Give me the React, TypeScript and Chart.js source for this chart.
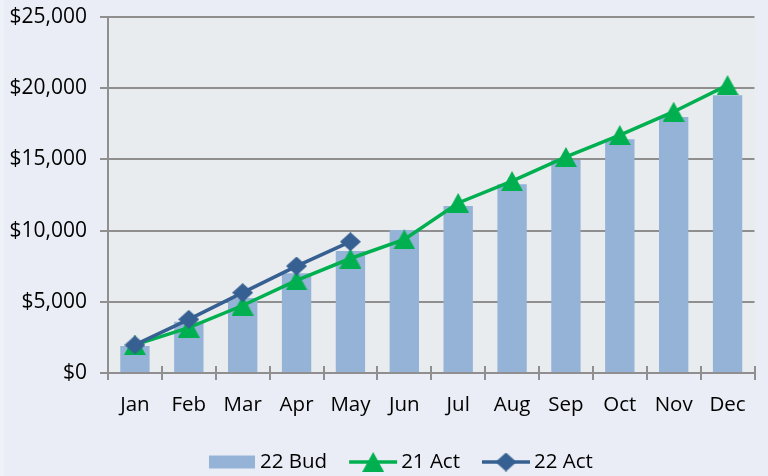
import React, { useEffect, useRef } from "react";
import { Chart, registerables } from "chart.js";

Chart.register(...registerables);

const categories = ["Jan", "Feb", "Mar", "Apr", "May", "Jun", "Jul", "Aug", "Sep", "Oct", "Nov", "Dec"];
const bud22 = [1900, 3600, 5270, 7000, 8570, 10050, 11730, 13250, 14960, 16410, 17980, 19500];
const act21 = [1970, 3190, 4740, 6500, 8040, 9380, 11940, 13480, 15170, 16710, 18350, 20220];
const act22 = [1970, 3770, 5640, 7510, 9220];
const seriesNames = ["22 Bud", "21 Act", "22 Act"];
const yMin = 0;
const yMax = 25000;
const yStep = 5000;

const BAR = "#95b3d7";
const GREEN = "#00b050";
const BLUE = "#376092";
const GRID = "#8f8f8f";
const FONT = "'Open Sans', sans-serif";
const FONT_SIZE = 20.5;
const Y_FONT_SIZE = 21;

function makeTriangle(): HTMLCanvasElement {
  const c = document.createElement("canvas");
  c.width = 22;
  c.height = 20;
  const g = c.getContext("2d")!;
  g.fillStyle = GREEN;
  g.beginPath();
  g.moveTo(11, 0);
  g.lineTo(22, 20);
  g.lineTo(0, 20);
  g.closePath();
  g.fill();
  return c;
}

function makeDiamond(): HTMLCanvasElement {
  const c = document.createElement("canvas");
  c.width = 21;
  c.height = 19;
  const g = c.getContext("2d")!;
  g.fillStyle = BLUE;
  g.beginPath();
  g.moveTo(10.5, 0);
  g.lineTo(21, 9.5);
  g.lineTo(10.5, 19);
  g.lineTo(0, 9.5);
  g.closePath();
  g.fill();
  return c;
}

export default function App() {
  const ref = useRef<HTMLCanvasElement>(null);

  useEffect(() => {
    document.body.style.margin = "0";
    const tri = makeTriangle();
    const dia = makeDiamond();

    const plotBg = {
      id: "plotBg",
      beforeDraw(chart: any) {
        const { ctx, chartArea } = chart;
        ctx.save();
        ctx.fillStyle = "#e9ecee";
        ctx.fillRect(chartArea.left, chartArea.top, chartArea.right - chartArea.left, chartArea.bottom - chartArea.top);
        ctx.restore();
      },
    };

    const innerTicks = {
      id: "innerTicks",
      afterDatasetsDraw(chart: any) {
        const ctx = chart.ctx as CanvasRenderingContext2D;
        const xs = chart.scales.x;
        const n = categories.length;
        ctx.save();
        ctx.strokeStyle = GRID;
        ctx.lineWidth = 2;
        for (let i = 0; i <= n; i++) {
          const px = Math.round(xs.left + (i * (xs.right - xs.left)) / n);
          ctx.beginPath();
          ctx.moveTo(px, xs.top - 7);
          ctx.lineTo(px, xs.top);
          ctx.stroke();
        }
        ctx.restore();
      },
    };

    const customLegend = {
      id: "customLegend",
      afterDraw(chart: any) {
        const ctx = chart.ctx as CanvasRenderingContext2D;
        const cy = 462;
        ctx.save();
        ctx.font = `${FONT_SIZE}px ${FONT}`;
        ctx.textBaseline = "middle";
        let x = 209;
        ctx.fillStyle = BAR;
        ctx.fillRect(x, cy - 6.5, 46, 13);
        x += 46 + 5;
        ctx.fillStyle = "#000";
        ctx.fillText(seriesNames[0], x, cy);
        x += ctx.measureText(seriesNames[0]).width + 22;
        const items = [
          { name: seriesNames[1], color: GREEN, img: tri },
          { name: seriesNames[2], color: BLUE, img: dia },
        ];
        for (const it of items) {
          ctx.strokeStyle = it.color;
          ctx.lineWidth = 3.5;
          ctx.beginPath();
          ctx.moveTo(x, cy);
          ctx.lineTo(x + 48, cy);
          ctx.stroke();
          ctx.drawImage(it.img, x + 24 - it.img.width / 2, cy - it.img.height / 2);
          x += 48 + 4;
          ctx.fillStyle = "#000";
          ctx.fillText(it.name, x, cy);
          x += ctx.measureText(it.name).width + 22;
        }
        ctx.restore();
      },
    };

    const chart = new Chart(ref.current!, {
      type: "bar",
      data: {
        labels: categories,
        datasets: [
          {
            type: "bar",
            label: seriesNames[0],
            data: bud22,
            backgroundColor: BAR,
            borderWidth: 0,
            categoryPercentage: 1,
            barPercentage: 0.545,
            order: 3,
          },
          {
            type: "line",
            label: seriesNames[1],
            data: act21,
            borderColor: GREEN,
            backgroundColor: GREEN,
            borderWidth: 3.5,
            pointStyle: tri as any,
            pointRadius: 10,
            tension: 0,
            order: 2,
          },
          {
            type: "line",
            label: seriesNames[2],
            data: act22,
            borderColor: BLUE,
            backgroundColor: BLUE,
            borderWidth: 3.5,
            pointStyle: dia as any,
            pointRadius: 10,
            tension: 0,
            order: 1,
          },
        ] as any,
      },
      options: {
        animation: false,
        responsive: false,
        layout: { padding: { top: 17, right: 0, left: 0, bottom: 48 } },
        plugins: {
          legend: { display: false },
          tooltip: { enabled: false },
        },
        scales: {
          x: {
            grid: {
              display: true,
              drawOnChartArea: false,
              drawTicks: true,
              tickLength: 7,
              color: GRID,
              lineWidth: 2,
            },
            border: { display: true, color: GRID, width: 2 },
            ticks: {
              color: "#000",
              font: { family: FONT, size: FONT_SIZE },
              padding: 13,
              maxRotation: 0,
            },
            afterFit(scale: any) {
              scale.height = 55;
              scale.paddingLeft = 0;
              scale.paddingRight = 0;
            },
          },
          y: {
            min: yMin,
            max: yMax,
            grid: {
              color: GRID,
              lineWidth: 2,
              tickLength: 8,
            },
            border: { display: true, color: GRID, width: 2 },
            ticks: {
              stepSize: yStep,
              color: "#000",
              font: { family: FONT, size: Y_FONT_SIZE },
              padding: 13,
              callback: (v: any) => "$" + Number(v).toLocaleString("en-US"),
            },
            afterFit(scale: any) {
              scale.width = 108;
              scale.paddingTop = 0;
              scale.paddingBottom = 0;
            },
          },
        },
      },
      plugins: [plotBg, innerTicks, customLegend],
    });
    return () => chart.destroy();
  }, []);

  return (
    <div style={{ width: 768, height: 476, background: "#eaedf5", position: "relative" }}>
      <canvas ref={ref} width={768} height={476} style={{ display: "block" }} />
      <div style={{ position: "absolute", left: 0, top: 0, width: 4, height: 476, background: "#eef1f7" }} />
    </div>
  );
}
